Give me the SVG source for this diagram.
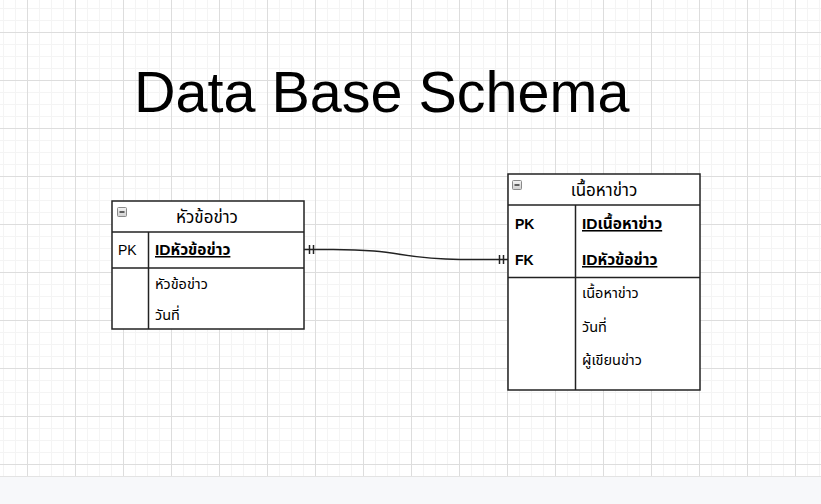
<svg xmlns="http://www.w3.org/2000/svg" width="821" height="504" viewBox="0 0 821 504">
  <defs>
    <pattern id="grid" x="27" y="32" width="48" height="48" patternUnits="userSpaceOnUse">
      <path d="M12.5 0V48M24.5 0V48M36.5 0V48M0 12.5H48M0 24.5H48M0 36.5H48" stroke="#f4f4f4" stroke-width="1" fill="none"/>
      <path d="M0.5 0V48M0 0.5H48" stroke="#dddddd" stroke-width="1" fill="none"/>
    </pattern>
    <linearGradient id="ic" x1="0" y1="0" x2="0" y2="1">
      <stop offset="0" stop-color="#f4f4f4"/>
      <stop offset="1" stop-color="#cfcfcf"/>
    </linearGradient>
  </defs>
  <style>
    .box{fill:#ffffff;stroke:#222;stroke-width:1.5}
    .ln{stroke:#222;stroke-width:1.5;fill:none}
    .t{font-family:"Liberation Sans","Noto Sans","Noto Sans Thai","DejaVu Sans",sans-serif;font-size:14.5px;fill:#000}
    .h{font-size:17px}
    .b{font-weight:bold;font-size:15.5px}
    .u{text-decoration:underline}
    .lat{font-size:14px}
    .icon{fill:url(#ic);stroke:#8a8a8a;stroke-width:1}
    .minus{stroke:#333;stroke-width:1.5}
  </style>
  <rect width="821" height="504" fill="#ffffff"/>
  <rect width="821" height="476" fill="url(#grid)"/>
  <rect x="0" y="476" width="821" height="28" fill="#f7f8fa"/>
  <line x1="0" y1="476.5" x2="821" y2="476.5" stroke="#e3e3e3"/>

  <text x="134" y="112" font-family="Liberation Sans, Arial, sans-serif" font-size="57.5" fill="#000">Data Base Schema</text>

  <g id="connectors">
    <path class="ln" d="M304 249.5H333C400 249.5 400 259 460 259.5H508"/>
    <path class="ln" d="M309.5 245V254M313.5 245V254"/>
    <path class="ln" d="M499.5 255V264M503.5 255V264"/>
  </g>

  <g id="table-news-title">
    <rect class="box" x="112" y="201" width="192" height="128"/>
    <line class="ln" x1="112" y1="232" x2="304" y2="232"/>
    <line class="ln" x1="112" y1="268" x2="304" y2="268"/>
    <line class="ln" x1="148.5" y1="232" x2="148.5" y2="329"/>
    <rect class="icon" x="117.5" y="207.5" width="9" height="9" rx="1"/>
    <line class="minus" x1="119.5" y1="212" x2="124.5" y2="212"/>
    <text class="t h" x="207" y="223" text-anchor="middle">หัวข้อข่าว</text>
    <text class="t lat" x="118" y="255">PK</text>
    <text class="t b u" x="155" y="255">IDหัวข้อข่าว</text>
    <text class="t" x="155" y="289">หัวข้อข่าว</text>
    <text class="t" x="155" y="320">วันที่</text>
  </g>

  <g id="table-news-content">
    <rect class="box" x="508" y="174" width="192" height="216"/>
    <line class="ln" x1="508" y1="205" x2="700" y2="205"/>
    <line class="ln" x1="508" y1="277.5" x2="700" y2="277.5"/>
    <line class="ln" x1="575.5" y1="205" x2="575.5" y2="390"/>
    <rect class="icon" x="512.5" y="180.5" width="9" height="9" rx="1"/>
    <line class="minus" x1="514.5" y1="185" x2="519.5" y2="185"/>
    <text class="t h" x="604" y="196" text-anchor="middle">เนื้อหาข่าว</text>
    <text class="t b lat" x="515" y="229">PK</text>
    <text class="t b u" x="582" y="229">IDเนื้อหาข่าว</text>
    <text class="t b lat" x="515" y="265">FK</text>
    <text class="t b u" x="582" y="265">IDหัวข้อข่าว</text>
    <text class="t" x="582" y="298">เนื้อหาข่าว</text>
    <text class="t" x="582" y="332">วันที่</text>
    <text class="t" x="582" y="365">ผู้เขียนข่าว</text>
  </g>
</svg>
